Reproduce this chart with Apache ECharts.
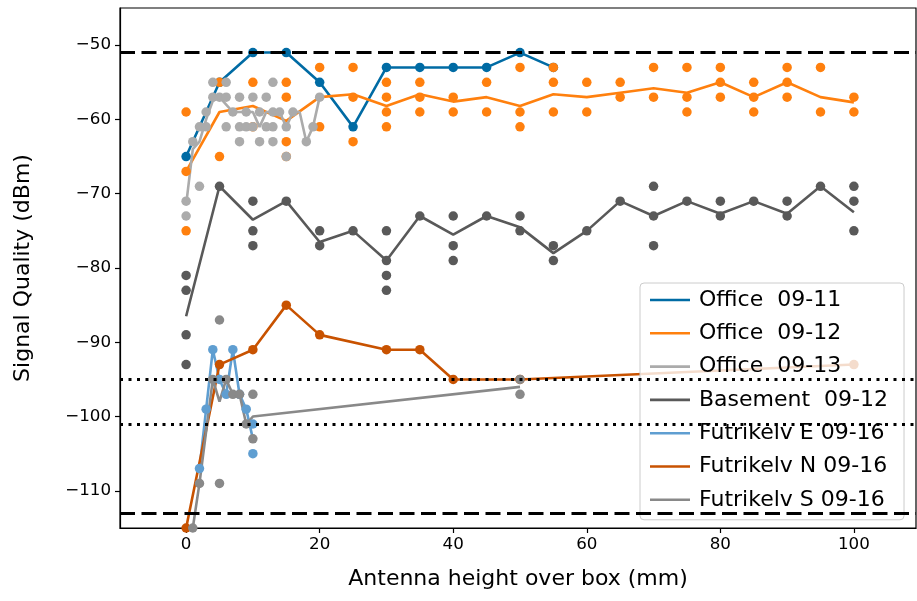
<!DOCTYPE html>
<html><head><meta charset="utf-8">
<script src="https://cdn.jsdelivr.net/npm/echarts@6/dist/echarts.min.js"></script>
<style>html,body{margin:0;padding:0;background:#fff}#c{width:917px;height:601px}</style>
</head><body><div id="c"></div><script>
// ---- data ----
const seriesNames = ['Office  09-11', 'Office  09-12', 'Office  09-13', 'Basement  09-12', 'Futrikelv E 09-16', 'Futrikelv N 09-16', 'Futrikelv S 09-16'];
const seriesColors = ['#006BA4', '#FF800E', '#ABABAB', '#595959', '#5F9ED1', '#C85200', '#898989'];
const xTicks = [0, 20, 40, 60, 80, 100];
const yTicks = [-110, -100, -90, -80, -70, -60, -50];
const dashedLevels = [-51, -113];
const dottedLevels = [-95, -101];

// Office 09-11
const office0911Line = [[0,-65],[5,-55],[10,-51],[15,-51],[20,-55],[25,-61],[30,-53],[35,-53],[40,-53],[45,-53],[50,-51],[55,-53]];
const office0911Dots = [[0,-65],[5,-55],[10,-51],[15,-51],[20,-55],[25,-61],[30,-53],[35,-53],[40,-53],[45,-53],[50,-51],[55,-53]];
// Office 09-12
const office0912Line = [[0,-67],[5,-59],[10,-58.2],[15,-60.2],[20,-57],[25,-56.6],[30,-58.2],[35,-56.6],[40,-57.6],[45,-57],[50,-58.2],[55,-56.6],[60,-57],[65,-56.4],[70,-55.8],[75,-56.4],[80,-55],[85,-57],[90,-55],[95,-57],[100,-57.7]];
const office0912Dots = [[0,-59],[0,-67],[0,-75],[5,-55],[5,-65],[10,-55],[10,-61],[15,-55],[15,-57],[15,-63],[15,-65],
  [20,-53],[20,-61],[25,-53],[25,-57],[25,-63],[30,-55],[30,-57],[30,-59],[30,-61],[35,-55],[35,-57],[35,-59],
  [40,-57],[40,-59],[45,-55],[45,-59],[50,-53],[50,-59],[50,-61],[55,-53],[55,-55],[55,-59],[60,-55],[60,-59],
  [65,-55],[65,-57],[70,-53],[70,-57],[75,-53],[75,-57],[75,-59],[80,-53],[80,-55],[80,-57],[85,-55],[85,-57],[85,-59],
  [90,-53],[90,-55],[90,-57],[95,-53],[95,-59],[100,-57],[100,-59]];
// Office 09-13
const office0913Line = [[0,-71.5],[1,-64],[2,-63],[3,-60],[4,-57.5],[5,-57],[6,-58],[7,-59],[8,-59],[9,-59],[10,-59],[11,-61],[12,-59],[13,-59],[14,-59],[15,-61],[16,-59],[17,-59],[18,-63],[19,-61],[20,-57]];
const office0913Dots = [[0,-71],[0,-73],[1,-63],[2,-69],[2,-61],[3,-59],[3,-61],[4,-55],[4,-57],
  [5,-57],[6,-55],[6,-57],[6,-61],[7,-59],[8,-57],[8,-61],[8,-63],[9,-59],[9,-61],
  [10,-57],[10,-61],[11,-63],[11,-59],[12,-57],[12,-61],[13,-55],[13,-59],[13,-61],[13,-63],[14,-59],
  [15,-61],[15,-65],[16,-59],[18,-63],[19,-61],[20,-57]];
// Basement 09-12
const basementLine = [[0,-86.5],[5,-69],[10,-73.5],[15,-71],[20,-76.5],[25,-75],[30,-79],[35,-73],[40,-75.5],[45,-73],[50,-74.5],[55,-78],[60,-75],[65,-71],[70,-73],[75,-71],[80,-72.7],[85,-71],[90,-72.7],[95,-69],[100,-72.5]];
const basementDots = [[0,-81],[0,-83],[0,-89],[0,-93],[5,-69],[10,-71],[10,-75],[10,-77],[15,-71],[20,-75],[20,-77],[25,-75],
  [30,-75],[30,-79],[30,-81],[30,-83],[35,-73],[40,-73],[40,-77],[40,-79],[45,-73],[50,-73],[50,-75],[55,-77],[55,-79],
  [60,-75],[65,-71],[70,-69],[70,-73],[70,-77],[75,-71],[80,-71],[80,-73],[85,-71],[90,-71],[90,-73],[95,-69],
  [100,-69],[100,-71],[100,-75]];
// Futrikelv E 09-16
const futEastLine = [[2,-107],[3,-99],[4,-91],[5,-95],[6,-97],[7,-91],[8,-97],[9,-99],[10,-103]];
const futEastDots = [[2,-107],[3,-99],[4,-91],[5,-95],[6,-97],[7,-91],[8,-97],[9,-99],[10,-101],[10,-105]];
// Futrikelv N 09-16
const futNorthLine = [[0,-115],[5,-93],[10,-91],[15,-85],[20,-89],[30,-91],[35,-91],[40,-95],[50,-95],[100,-93]];
const futNorthDots = [[0,-115],[5,-93],[10,-91],[15,-85],[20,-89],[30,-91],[35,-91],[40,-95],[50,-95],[100,-93]];
// Futrikelv S 09-16
const futSouthLine = [[1,-115],[2,-109],[4,-95],[5,-98],[6,-95],[7,-97],[8,-97],[9,-101],[10,-100],[50,-96]];
const futSouthDots = [[1,-115],[2,-109],[4,-95],[5,-87],[5,-109],[6,-95],[7,-97],[8,-97],[9,-101],[10,-97],[10,-103],[50,-95],[50,-97]];

const lineSets = [office0911Line, office0912Line, office0913Line, basementLine, futEastLine, futNorthLine, futSouthLine];
const dotSets = [office0911Dots, office0912Dots, office0913Dots, basementDots, futEastDots, futNorthDots, futSouthDots];

// ---- chart ----
const FONT = 'DejaVu Sans';
const minus = v => (v < 0 ? '\u2212' + Math.abs(v) : String(v));
const series = [];
seriesNames.forEach((name, i) => {
  series.push({
    name: name, type: 'line', data: lineSets[i], showSymbol: false, symbol: 'none',
    lineStyle: { color: seriesColors[i], width: 2.6 }, itemStyle: { color: seriesColors[i] },
    animation: false, silent: true, z: 2
  });
  series.push({
    name: name + ' pts', type: 'scatter', data: dotSets[i], symbol: 'circle', symbolSize: 9.5,
    itemStyle: { color: seriesColors[i], opacity: 1 }, animation: false, silent: true, z: 2
  });
});
const refData = [];
dashedLevels.forEach(v => refData.push({ yAxis: v, lineStyle: { type: [15, 6.5], color: '#000', width: 2.8 } }));
dottedLevels.forEach(v => refData.push({ yAxis: v, lineStyle: { type: [3, 5.5], color: '#000', width: 2.8 } }));
series.push({
  name: 'refs', type: 'line', data: [], silent: true, animation: false, z: 3,
  markLine: { silent: true, animation: false, symbol: ['none', 'none'], label: { show: false }, data: refData }
});

const chart = echarts.init(document.getElementById('c'), null, { renderer: 'canvas' });
chart.setOption({
  backgroundColor: '#fff',
  animation: false,
  grid: { left: 120, right: 1, top: 8, bottom: 73, show: true, borderColor: '#000', borderWidth: 1.2, backgroundColor: 'transparent' },
  xAxis: {
    type: 'value', min: -9.9, max: 109.3,
    name: 'Antenna height over box (mm)', nameLocation: 'middle', nameGap: 40,
    nameTextStyle: { fontFamily: FONT, fontSize: 22, color: '#000' },
    axisLine: { show: true, onZero: false, lineStyle: { color: '#000', width: 1.2 } },
    axisTick: { show: true, length: 5, customValues: xTicks, lineStyle: { color: '#000', width: 1.2 } },
    axisLabel: { customValues: xTicks, fontFamily: FONT, fontSize: 16.7, color: '#000', margin: 8, formatter: minus },
    splitLine: { show: false }
  },
  yAxis: {
    type: 'value', min: -115, max: -45,
    name: 'Signal Quality (dBm)', nameLocation: 'middle', nameGap: 86,
    nameTextStyle: { fontFamily: FONT, fontSize: 22, color: '#000' },
    axisLine: { show: true, onZero: false, lineStyle: { color: '#000', width: 1.2 } },
    axisTick: { show: true, length: 5, customValues: yTicks, lineStyle: { color: '#000', width: 1.2 } },
    axisLabel: { customValues: yTicks, fontFamily: FONT, fontSize: 16.7, color: '#000', margin: 9, formatter: minus },
    splitLine: { show: false }
  },
  legend: {
    data: seriesNames, orient: 'vertical', left: 640, top: 283,
    icon: 'rect', itemWidth: 40, itemHeight: 2.6, itemGap: 11.3,
    padding: [6, 16, 9, 10],
    backgroundColor: 'rgba(255,255,255,0.8)', borderColor: '#cccccc', borderWidth: 1, borderRadius: 4,
    textStyle: { fontFamily: FONT, fontSize: 22, color: '#000', lineHeight: 22, padding: [0, 0, 0, 4] },
    selectedMode: false
  },
  series: series
});
</script></body></html>
